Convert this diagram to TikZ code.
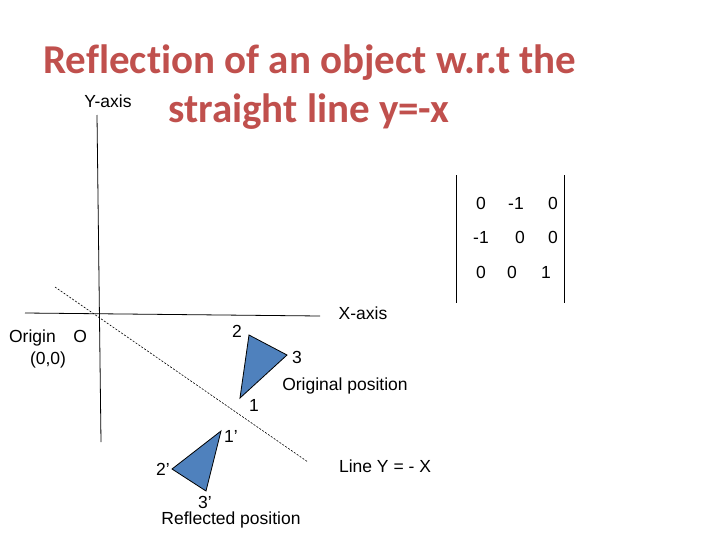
\documentclass[tikz,border=0pt]{standalone}
\usepackage{fontspec}
\setmainfont{Liberation Sans}
\newfontfamily\titlefont[Ligatures=NoCommon]{Carlito}
\definecolor{titlered}{HTML}{C0504D}
\definecolor{tri}{HTML}{4F81BD}
\begin{document}
\begin{tikzpicture}[x=1pt,y=-1pt,
  lbl/.style={inner sep=0pt,font=\fontsize{17.5}{20}\selectfont},
  trif/.style={fill=tri,draw=black,line width=0.8pt}]
\useasboundingbox (0,0) rectangle (728,546);
\node[inner sep=0pt,text=titlered,font=\titlefont\bfseries\fontsize{41}{46}\selectfont] (t1) at (310,63) {Reflection of an object w.r.t the};
\node[inner sep=0pt,text=titlered,font=\titlefont\bfseries\fontsize{41}{46}\selectfont] (t2) at (309,112) {straight line y=-x};
\coordinate (yt) at (97,115); \coordinate (yb) at (101,442);
\draw[line width=0.8pt] (yt) -- (yb);
\coordinate (xl) at (25,313); \coordinate (xr) at (320,316);
\draw[line width=0.8pt] (xl) -- (xr);
\coordinate (dl) at (55,287); \coordinate (dr) at (308,462);
\draw[line width=0.6pt,dash pattern=on 2pt off 1.5pt] (dl) -- (dr);
\node[lbl] (ya) at (108,101) {Y-axis};
\node[lbl] (xa) at (363,313) {X-axis};
\node[lbl] (or) at (48,338) {Origin\quad O};
\node[lbl] (oc) at (48,360) {(0,0)};
\node[lbl] (ln) at (385,466) {Line Y = - X};
\node[lbl] (op) at (345,386) {Original position};
\node[lbl] (rp) at (231,520) {Reflected position};
\coordinate (p1) at (240,398); \coordinate (p2) at (249,335); \coordinate (p3) at (287,355);
\draw[trif] (p1) -- (p2) -- (p3) -- cycle;
\node[lbl] (l1) at (254,405) {1};
\node[lbl] (l2) at (237,331) {2};
\node[lbl] (l3) at (297,357) {3};
\coordinate (q1) at (221,431); \coordinate (q2) at (172,469); \coordinate (q3) at (206,491);
\draw[trif] (q1) -- (q2) -- (q3) -- cycle;
\node[lbl] (m1) at (231,436) {1’};
\node[lbl] (m2) at (163,469) {2’};
\node[lbl] (m3) at (205,502) {3’};
\coordinate (b1t) at (456,175); \coordinate (b1b) at (456,303);
\coordinate (b2t) at (564,175); \coordinate (b2b) at (564,303);
\draw[line width=0.8pt] (b1t) -- (b1b);
\draw[line width=0.8pt] (b2t) -- (b2b);
\node[lbl] (a11) at (481,203) {0};
\node[lbl] (a12) at (516,203) {-1};
\node[lbl] (a13) at (553,203) {0};
\node[lbl] (a21) at (481,237) {-1};
\node[lbl] (a22) at (520,237) {0};
\node[lbl] (a23) at (553,237) {0};
\node[lbl] (a31) at (481,272) {0};
\node[lbl] (a32) at (512,272) {0};
\node[lbl] (a33) at (546,272) {1};
\end{tikzpicture}
\end{document}
